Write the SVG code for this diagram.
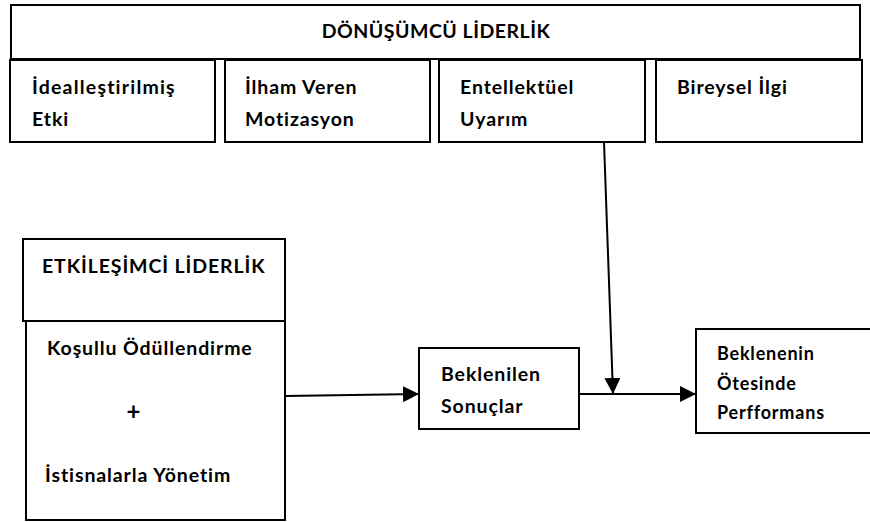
<svg xmlns="http://www.w3.org/2000/svg" width="870" height="522" viewBox="0 0 870 522">
<defs>
<style>
.box{fill:#fff;stroke:#000;stroke-width:2}
.t{font-family:Lato,"Open Sans","Liberation Sans",sans-serif;font-weight:700;font-size:19.5px;letter-spacing:0.9px;fill:#000}
.s{font-size:18px;letter-spacing:0.8px}
.c{stroke:#000;stroke-width:2;fill:none}
</style>
<marker id="ah" viewBox="0 0 16 16" refX="16" refY="8" markerWidth="16" markerHeight="16" markerUnits="userSpaceOnUse" orient="auto">
<path d="M0,0 L16,8 L0,16 Z" fill="#000"/>
</marker>
</defs>
<rect width="870" height="522" fill="#fff"/>
<g id="donusumcu">
<rect class="box" x="11" y="5" width="849" height="54"/>
<text class="t" x="436" y="38" text-anchor="middle" style="letter-spacing:0.5px">DÖNÜŞÜMCÜ LİDERLİK</text>
</g>
<g id="idealized">
<rect class="box" x="10" y="60" width="205" height="82"/>
<text class="t" x="32" y="94" style="letter-spacing:1.2px">İdealleştirilmiş</text>
<text class="t" x="32" y="126">Etki</text>
</g>
<g id="inspirational">
<rect class="box" x="225" y="60" width="205" height="82"/>
<text class="t" x="245" y="94">İlham Veren</text>
<text class="t" x="245" y="126">Motizasyon</text>
</g>
<g id="intellectual">
<rect class="box" x="439" y="60" width="206" height="82"/>
<text class="t" x="460" y="94">Entellektüel</text>
<text class="t" x="460" y="126">Uyarım</text>
</g>
<g id="individual">
<rect class="box" x="656" y="60" width="206" height="82"/>
<text class="t" x="677" y="94">Bireysel İlgi</text>
</g>
<g id="etkilesimci">
<rect class="box" x="23" y="239" width="262" height="82"/>
<text class="t" x="42" y="273">ETKİLEŞİMCİ LİDERLİK</text>
</g>
<g id="transactional-components">
<rect class="box" x="26" y="321" width="259" height="199"/>
<text class="t" x="47" y="355">Koşullu Ödüllendirme</text>
<text class="t" x="134" y="420" text-anchor="middle" style="font-size:24px">+</text>
<text class="t" x="45" y="482">İstisnalarla Yönetim</text>
</g>
<g id="beklenilen">
<rect class="box" x="419" y="348" width="160" height="81"/>
<text class="t" x="441" y="381">Beklenilen</text>
<text class="t" x="441" y="413">Sonuçlar</text>
</g>
<g id="beklenenin">
<rect class="box" x="696" y="329" width="176" height="104"/>
<text class="t s" x="717" y="360">Beklenenin</text>
<text class="t s" x="717" y="390">Ötesinde</text>
<text class="t s" x="717" y="419">Perfformans</text>
</g>
<g id="connectors">
<path class="c" d="M285,396 L419,394" marker-end="url(#ah)"/>
<path class="c" d="M579,394 L696,394" marker-end="url(#ah)"/>
<path class="c" d="M604,142 L613,394" marker-end="url(#ah)"/>
</g>
</svg>
